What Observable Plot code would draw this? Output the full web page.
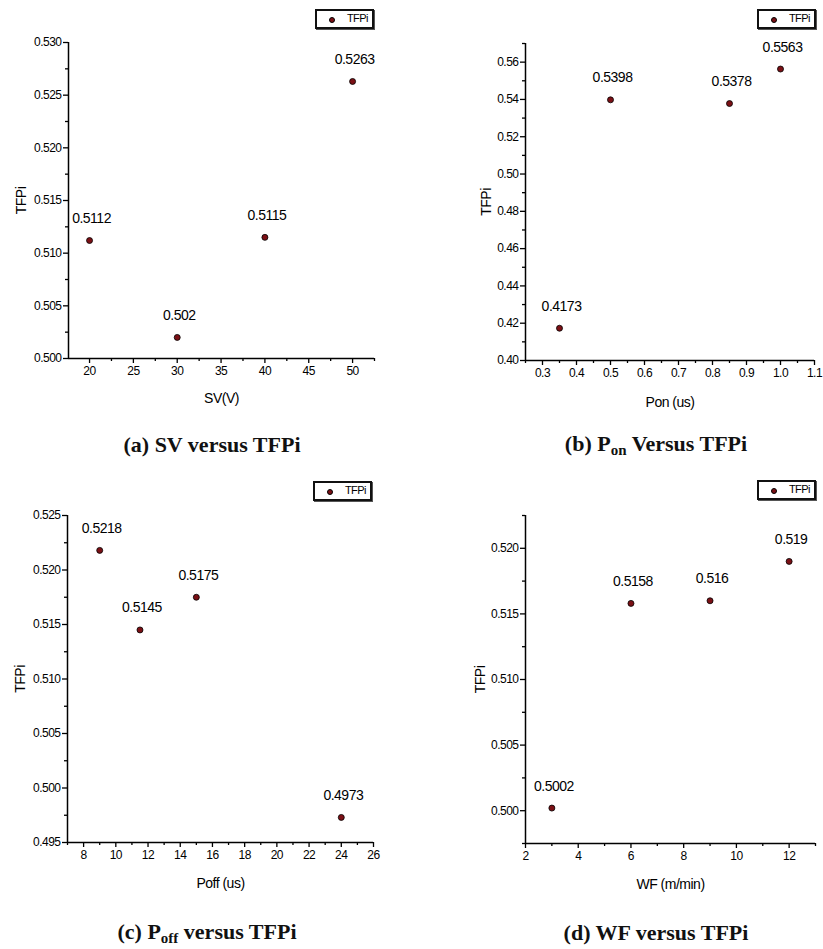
<!DOCTYPE html>
<html>
<head>
<meta charset="utf-8">
<script src="https://cdn.jsdelivr.net/npm/d3@7"></script>
<script src="https://cdn.jsdelivr.net/npm/@observablehq/plot@0.6"></script>
<style>
  html, body { margin: 0; padding: 0; background: #fff; }
  #root { position: relative; width: 823px; height: 949px; overflow: hidden; }
  .panel { position: absolute; }
  .legend {
    position: absolute; box-sizing: border-box; border: 2px solid #111;
    box-shadow: 1px 1px 0 #555; background: #fff;
    font-family: "Liberation Sans Narrow", "Arial Narrow", "Liberation Sans", sans-serif;
    font-size: 11px; letter-spacing: -0.6px; color: #000;
  }
  .legend .mk { position: absolute; left: 12px; top: 6px; width: 6px; height: 6px; border-radius: 50%;
    background: #7b1015; border: 1px solid #000; box-sizing: border-box; }
  .legend .lb { position: absolute; left: 30px; top: 1px; }
  .caption {
    position: absolute; transform: translate(-50%, -50%); white-space: nowrap;
    font-family: "Liberation Serif", "Times New Roman", serif; font-weight: bold; font-size: 22px; color: #111;
  }
  .caption sub { font-size: 15px; vertical-align: -4px; }
</style>
</head>
<body>
<div id="root"></div>
<script>
// ---- data ----
const svX = [20, 30, 40, 50];
const svTFPi = [0.5112, 0.502, 0.5115, 0.5263];
const svTicksX = [20, 25, 30, 35, 40, 45, 50];
const svTicksY = [0.500, 0.505, 0.510, 0.515, 0.520, 0.525, 0.530];

const ponX = [0.35, 0.5, 0.85, 1.0];
const ponTFPi = [0.4173, 0.5398, 0.5378, 0.5563];
const ponTicksX = [0.3, 0.4, 0.5, 0.6, 0.7, 0.8, 0.9, 1.0, 1.1];
const ponTicksY = [0.40, 0.42, 0.44, 0.46, 0.48, 0.50, 0.52, 0.54, 0.56];

const poffX = [9, 11.5, 15, 24];
const poffTFPi = [0.5218, 0.5145, 0.5175, 0.4973];
const poffTicksX = [8, 10, 12, 14, 16, 18, 20, 22, 24, 26];
const poffTicksY = [0.495, 0.500, 0.505, 0.510, 0.515, 0.520, 0.525];

const wfX = [3, 6, 9, 12];
const wfTFPi = [0.5002, 0.5158, 0.516, 0.519];
const wfTicksX = [2, 4, 6, 8, 10, 12];
const wfTicksY = [0.500, 0.505, 0.510, 0.515, 0.520];

const seriesName = "TFPi";

// ---- layout ----
const panels = [
  { x: svX, y: svTFPi, tx: svTicksX, ty: svTicksY, xDomain: [17.6, 52.5], yDomain: [0.500, 0.530],
    xFmt: d3.format("d"), yFmt: d3.format(".3f"), xLabel: "SV(V)",
    left: 0, top: 0, width: 411, height: 410, mt: 42, mb: 52, ml: 68, mr: 37, ylDx: -47, xlDy: 40,
    legend: [315, 9], caption: ["(a) SV versus TFPi", 212, 445] },
  { x: ponX, y: ponTFPi, tx: ponTicksX, ty: ponTicksY, xDomain: [0.25, 1.1], yDomain: [0.40, 0.570],
    xFmt: d3.format(".1f"), yFmt: d3.format(".2f"), xLabel: "Pon (us)",
    left: 410, top: 0, width: 413, height: 410, mt: 43, mb: 50, ml: 115, mr: 9, ylDx: -39, xlDy: 42,
    legend: [757, 9], caption: ["(b) P<sub>on</sub> Versus TFPi", 656, 445] },
  { x: poffX, y: poffTFPi, tx: poffTicksX, ty: poffTicksY, xDomain: [7, 26], yDomain: [0.495, 0.525],
    xFmt: d3.format("d"), yFmt: d3.format(".3f"), xLabel: "Poff (us)",
    left: 0, top: 473, width: 411, height: 420, mt: 42, mb: 51, ml: 67, mr: 38, ylDx: -47, xlDy: 41,
    legend: [313, 481], caption: ["(c) P<sub>off</sub> versus TFPi", 207, 933] },
  { x: wfX, y: wfTFPi, tx: wfTicksX, ty: wfTicksY, xDomain: [2, 13], yDomain: [0.4975, 0.5225],
    xFmt: d3.format("d"), yFmt: d3.format(".3f"), xLabel: "WF (m/min)",
    left: 410, top: 473, width: 413, height: 420, mt: 42, mb: 50, ml: 115, mr: 8, ylDx: -45, xlDy: 41,
    legend: [757, 480], caption: ["(d) WF versus TFPi", 656, 933] }
];

const root = document.getElementById("root");
const narrow = "'Liberation Sans Narrow', 'Arial Narrow', 'Liberation Sans', sans-serif";

function minorTicks(ticks, domain) {
  const step = ticks[1] - ticks[0];
  const out = [];
  const start = ticks[0] - step / 2;
  for (let v = start; v <= domain[1] + 1e-9; v += step) {
    if (v >= domain[0] - 1e-9) out.push(v);
  }
  return out;
}

for (const p of panels) {
  const data = p.x.map((xv, i) => ({ x: xv, y: p.y[i], label: String(p.y[i]) }));
  const chart = Plot.plot({
    width: p.width, height: p.height,
    marginTop: p.mt, marginBottom: p.mb, marginLeft: p.ml, marginRight: p.mr,
    x: { domain: p.xDomain, label: null },
    y: { domain: p.yDomain, label: null },
    style: { fontFamily: narrow, fontSize: "12px", color: "#000", background: "transparent",
      overflow: "visible", letterSpacing: "-0.5px" },
    marks: [
      Plot.axisX({ ticks: p.tx, tickSize: 5, tickPadding: 3, tickFormat: p.xFmt, strokeWidth: 1.3, fontSize: 12 }),
      Plot.axisX({ ticks: minorTicks(p.tx, p.xDomain), tickSize: 3, tickFormat: () => "", strokeWidth: 1.3 }),
      Plot.axisY({ ticks: p.ty, tickSize: 5, tickPadding: 2, tickFormat: p.yFmt, strokeWidth: 1.3, fontSize: 12 }),
      Plot.axisY({ ticks: minorTicks(p.ty, p.yDomain), tickSize: 3, tickFormat: () => "", strokeWidth: 1.3 }),
      Plot.ruleX([p.xDomain[0]], { stroke: "#000", strokeWidth: 1.5 }),
      Plot.ruleY([p.yDomain[0]], { stroke: "#000", strokeWidth: 1.5 }),
      Plot.dot(data, { x: "x", y: "y", r: 3, fill: "#7b1015", stroke: "#000", strokeWidth: 0.8 }),
      Plot.text(data, { x: "x", y: "y", text: "label", dy: -22, dx: 2, fontSize: 14,
        fontFamily: "'Liberation Sans', Arial, sans-serif", fill: "#000" }),
      Plot.text([p.xLabel], { text: d => d, frameAnchor: "bottom", lineAnchor: "middle", dy: p.xlDy,
        fontSize: 14, fill: "#000" }),
      Plot.text([seriesName], { text: d => d, frameAnchor: "left", rotate: -90, textAnchor: "middle",
        lineAnchor: "middle", dx: p.ylDx, fontSize: 14, fill: "#000" })
    ]
  });
  chart.classList.add("panel");
  chart.style.left = p.left + "px";
  chart.style.top = p.top + "px";
  root.appendChild(chart);

  const lg = document.createElement("div");
  lg.className = "legend";
  lg.style.left = p.legend[0] + "px";
  lg.style.top = p.legend[1] + "px";
  lg.style.width = "59px";
  lg.style.height = "20px";
  lg.innerHTML = `<span class="mk"></span><span class="lb">${seriesName}</span>`;
  root.appendChild(lg);

  const cap = document.createElement("div");
  cap.className = "caption";
  cap.style.left = p.caption[1] + "px";
  cap.style.top = p.caption[2] + "px";
  cap.innerHTML = p.caption[0];
  root.appendChild(cap);
}
</script>
</body>
</html>
